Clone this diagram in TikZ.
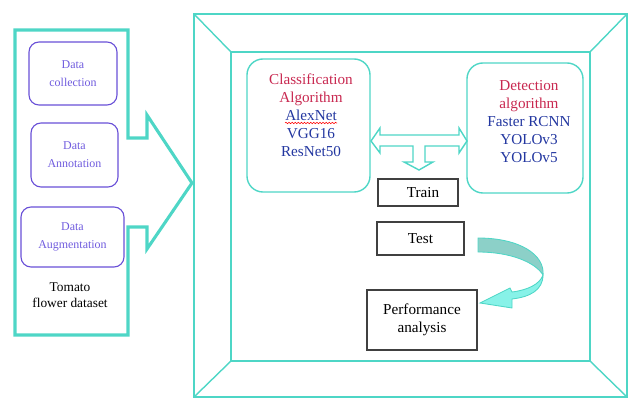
\documentclass[tikz,border=0pt]{standalone}
\usepackage{fontspec}
\setmainfont{Liberation Serif}
\usepackage{tikz}
\usetikzlibrary{decorations.pathmorphing}

\definecolor{frameteal}{RGB}{78,214,198}
\definecolor{boxpurple}{RGB}{105,80,215}
\definecolor{datapurple}{RGB}{112,92,222}
\definecolor{algred}{RGB}{200,40,80}
\definecolor{netblue}{RGB}{35,55,160}
\definecolor{curvedark}{RGB}{140,208,200}
\definecolor{curvelight}{RGB}{135,242,232}

\begin{document}
\begin{tikzpicture}[x=0.025cm, y=-0.025cm,
  every node/.style={align=center, font=\fontsize{10.8}{12.8}\selectfont},
  databox/.style={draw=boxpurple, line width=0.8pt, rounded corners=0.25cm, text=datapurple, font=\fontsize{8.5}{13}\selectfont},
  algbox/.style={draw=frameteal, line width=1pt, rounded corners=0.4cm},
  stepbox/.style={draw=black!75, line width=0.9pt},
  frame/.style={draw=frameteal, line width=1pt}]
  \useasboundingbox (0,0) rectangle (640,412);

  % dataset panel
  \draw[frameteal, line width=2.2pt, line join=miter] (15,30) -- (128,30) -- (128,138) -- (147,138) -- (147,115) -- (192,183)
    -- (147,249) -- (147,227) -- (128,227) -- (128,335) -- (15,335) -- cycle;
  \node (collect) [databox, minimum width=2.2cm, minimum height=1.575cm] at (73,73.5) {Data\\collection};
  \node (annot) [databox, minimum width=2.175cm, minimum height=1.6cm] at (74.5,155) {Data\\Annotation};
  \node (augment) [databox, minimum width=2.575cm, minimum height=1.5cm] at (72.5,237) {Data\\Augmentation};
  \node (dataset) [font=\fontsize{9.5}{11.4}\selectfont] at (70,295) {Tomato\\flower dataset};

  % model panel
  \draw[frame] (194,14) rectangle (627,397);
  \draw[frame] (231,52) rectangle (590,361);
  \draw[frame] (194,14) -- (231,52) (627,14) -- (590,52) (194,397) -- (231,361) (627,397) -- (590,361);

  \node (cls) [algbox, minimum width=3.075cm, minimum height=3.325cm] at (308.5,125.5) {};
  \node (clstxt) at (311,115.5) {\textcolor{algred}{Classification}\\\textcolor{algred}{Algorithm}\\
    \textcolor{netblue}{AlexNet}\\\textcolor{netblue}{VGG16}\\\textcolor{netblue}{ResNet50}};
  \draw[red, line width=0.4pt, decorate, decoration={snake, amplitude=0.5pt, segment length=2.2pt}] (285,123) -- (337,123);

  \node (det) [algbox, minimum width=2.9cm, minimum height=3.25cm] at (525,128) {};
  \node (dettxt) at (529,122) {\textcolor{algred}{Detection}\\\textcolor{algred}{algorithm}\\
    \textcolor{netblue}{Faster RCNN}\\\textcolor{netblue}{YOLOv3}\\\textcolor{netblue}{YOLOv5}};

  % T arrow between the two algorithm boxes
  \draw[frameteal, line width=1pt] (371,141) -- (380,128) -- (380,135) -- (459,135) -- (459,128) -- (467,141) -- (459,153)
    -- (459,146) -- (425,146) -- (425,162) -- (433,162) -- (419,170) -- (404,162) -- (413,162) -- (413,146)
    -- (380,146) -- (380,153) -- cycle;

  \node (train) [stepbox, minimum width=2cm, minimum height=0.675cm] at (418,192.5) {\hspace*{2.5mm}Train};
  \node (test) [stepbox, minimum width=2.175cm, minimum height=0.825cm] at (420.5,238.5) {Test};
  \node (perf) [stepbox, minimum width=2.75cm, minimum height=1.5cm] at (422,320) {Performance\\analysis};

  % curved arrow from test to performance
  \filldraw[fill=curvedark, draw=frameteal, line width=0.6pt] (478,238) .. controls (520,238) and (545,255) .. (543,275)
    .. controls (535,262) and (510,252) .. (478,252) -- cycle;
  \filldraw[fill=curvelight, draw=frameteal, line width=0.6pt] (543,275) .. controls (543,290) and (530,297) .. (512,299)
    -- (512,308) -- (480,303) -- (510,288) -- (512,292) .. controls (528,290) and (540,284) .. (543,275) -- cycle;
\end{tikzpicture}
\end{document}
